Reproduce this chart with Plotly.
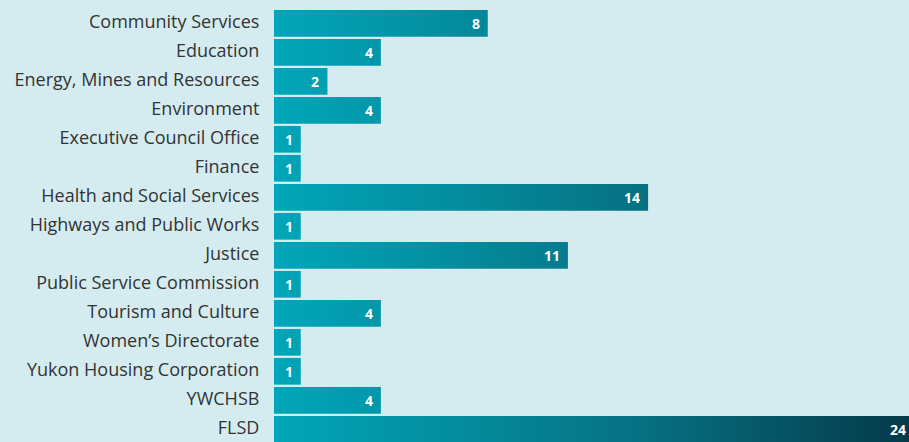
import plotly.graph_objects as go

categories = ["Community Services", "Education", "Energy, Mines and Resources", "Environment",
              "Executive Council Office", "Finance", "Health and Social Services",
              "Highways and Public Works", "Justice", "Public Service Commission",
              "Tourism and Culture", "Women’s Directorate", "Yukon Housing Corporation",
              "YWCHSB", "FLSD"]
values = [8, 4, 2, 4, 1, 1, 14, 1, 11, 1, 4, 1, 1, 4, 24]

BG = "#d4ecf0"
XMAX = 23.765
half = 0.46
gradient = [[0.0, "rgb(0,166,185)"], [0.333, "rgb(4,136,153)"], [0.571, "rgb(6,113,130)"],
            [0.96, "rgb(5,62,78)"], [1.0, "rgb(4,56,70)"]]

fig = go.Figure()
positions = list(range(len(categories)))
for pos, v in zip(positions, values):
    fig.add_trace(go.Scatter(
        x=[0, v, v, 0, 0], y=[pos - half, pos - half, pos + half, pos + half, pos - half],
        mode="lines", line=dict(width=0), fill="toself",
        fillgradient=dict(type="horizontal", colorscale=gradient, start=0, stop=24),
        hoverinfo="skip", showlegend=False))

annotations = []
for pos, v in zip(positions, values):
    annotations.append(dict(
        x=min(v, XMAX), y=pos, xref="x", yref="y", text=str(v), showarrow=False,
        xanchor="right", yanchor="middle", xshift=-6 if v <= XMAX else -1, yshift=0,
        font=dict(family="Open Sans", size=14, color="white", weight="bold")))

fig.update_layout(
    width=909, height=442, margin=dict(l=274, r=0, t=0, b=0),
    paper_bgcolor=BG, plot_bgcolor=BG,
    annotations=annotations,
    xaxis=dict(range=[0, XMAX], visible=False, fixedrange=True),
    yaxis=dict(range=[14.438, -0.803], tickvals=positions, ticktext=categories,
               showgrid=False, zeroline=False, showline=False,
               ticks="outside", ticklen=10, tickcolor="rgba(0,0,0,0)",
               ticklabelshift=2, ticklabeloverflow="allow",
               tickfont=dict(family="Open Sans", size=18, color="#333333")),
)
fig.write_html("out.html")
